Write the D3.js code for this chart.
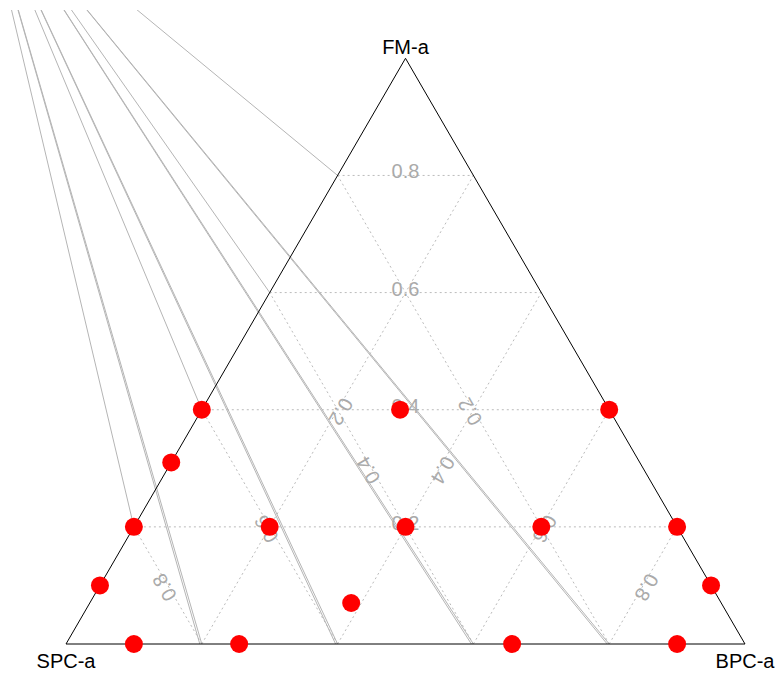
<!DOCTYPE html>
<html>
<head>
<meta charset="utf-8">
<script src="https://cdn.jsdelivr.net/npm/d3@7"></script>
<style>
  body { margin: 0; background: #fff; }
  svg { display: block; font-family: "Liberation Sans", Arial, sans-serif; }
</style>
</head>
<body>
<div id="chart"></div>
<script>
// Axis names, one per corner: bottom-left, bottom-right, top
const axisNames = ['SPC-a', 'BPC-a', 'FM-a'];

// Grid ticks and their labels
const ticks = [0.2, 0.4, 0.6, 0.8];
const tickLabels = ['0.2', '0.4', '0.6', '0.8'];

// Point compositions
const spcValues = [0.6, 0.69, 0.8, 0.9, 0.9, 0.745, 0.545, 0.308, 0.4, 0.6, 0.2, 0.343, 0.1, 0, 0, 0];
const bpcValues = [0, 0, 0, 0, 0.1, 0.255, 0.385, 0.292, 0.4, 0.2, 0.6, 0.657, 0.9, 0.6, 0.8, 0.9];
const fmValues  = [0.4, 0.31, 0.2, 0.1, 0, 0, 0.07, 0.4, 0.2, 0.2, 0.2, 0, 0, 0.4, 0.2, 0.1];

const points = spcValues.map((s, i) => ({ s: s, b: bpcValues[i], f: fmValues[i] }));

const width = 784, height = 680;

// Ternary projection: x follows b + f/2, y follows f
const xScale = d3.scaleLinear().domain([0, 1]).range([66, 745]);
const yScale = d3.scaleLinear().domain([0, 1]).range([644, 58.3]);
const project = (s, b, f) => [xScale(b + f / 2), yScale(f)];

// the stray guide lines all come from one spot above the page
const guideOrigin = [-19, -119];

const svg = d3.select('#chart')
  .append('svg')
  .attr('width', width)
  .attr('height', height);

// guide lines are cut off 10px below the top edge
svg.append('clipPath')
  .attr('id', 'guideClip')
  .append('rect')
  .attr('x', 0)
  .attr('y', 10)
  .attr('width', width)
  .attr('height', height - 10);

// Dotted grid lines for each axis
const gridLines = [];
ticks.forEach((t, i) => {
  gridLines.push({ axis: 'fm', label: tickLabels[i], a: project(1 - t, 0, t), b: project(0, 1 - t, t) });
  gridLines.push({ axis: 'bpc', label: tickLabels[i], a: project(1 - t, t, 0), b: project(0, t, 1 - t) });
  gridLines.push({ axis: 'spc', label: tickLabels[i], a: project(t, 1 - t, 0), b: project(t, 0, 1 - t) });
});

svg.append('g')
  .selectAll('line')
  .data(gridLines)
  .enter()
  .append('line')
  .attr('x1', d => d.a[0])
  .attr('y1', d => d.a[1])
  .attr('x2', d => d.b[0])
  .attr('y2', d => d.b[1])
  .attr('stroke', '#bbb')
  .attr('stroke-width', 1)
  .attr('stroke-dasharray', '2,3');

// Tick labels sit at the middle of each grid line, turned along it
const rotation = { fm: 0, bpc: 120, spc: -120 };
svg.append('g')
  .selectAll('text')
  .data(gridLines)
  .enter()
  .append('text')
  .attr('transform', d => `translate(${(d.a[0] + d.b[0]) / 2}, ${(d.a[1] + d.b[1]) / 2}) rotate(${rotation[d.axis]})`)
  .attr('dy', 3)
  .attr('text-anchor', 'middle')
  .style('font-size', '20px')
  .style('fill', '#aaa')
  .text(d => d.label);

// Grey guide lines from the origin to the tick points on the left and bottom edges
const guideEnds = [];
ticks.forEach(t => {
  guideEnds.push(project(1 - t, 0, t));
  const bottom = project(1 - t, t, 0);
  guideEnds.push(bottom);
  guideEnds.push([bottom[0] - 2, bottom[1]]);
});

svg.append('g')
  .attr('clip-path', 'url(#guideClip)')
  .selectAll('line')
  .data(guideEnds)
  .enter()
  .append('line')
  .attr('x1', guideOrigin[0])
  .attr('y1', guideOrigin[1])
  .attr('x2', d => d[0])
  .attr('y2', d => d[1])
  .attr('stroke', '#b5b5b5')
  .attr('stroke-width', 1);

// Triangle outline
const corners = [project(1, 0, 0), project(0, 1, 0), project(0, 0, 1)];
svg.append('path')
  .attr('d', d3.line()(corners) + 'Z')
  .attr('fill', 'none')
  .attr('stroke', '#000')
  .attr('stroke-width', 1);

// Corner titles
const titlePos = [
  [corners[0][0], corners[0][1] + 24],
  [corners[1][0], corners[1][1] + 24],
  [corners[2][0], corners[2][1] - 4]
];
svg.append('g')
  .selectAll('text')
  .data(axisNames)
  .enter()
  .append('text')
  .attr('x', (d, i) => titlePos[i][0])
  .attr('y', (d, i) => titlePos[i][1])
  .attr('text-anchor', 'middle')
  .style('font-size', '20px')
  .style('fill', '#000')
  .text(d => d);

// Data points
svg.append('g')
  .selectAll('circle')
  .data(points)
  .enter()
  .append('circle')
  .attr('cx', d => project(d.s, d.b, d.f)[0])
  .attr('cy', d => project(d.s, d.b, d.f)[1])
  .attr('r', 9)
  .attr('fill', 'red');
</script>
</body>
</html>
